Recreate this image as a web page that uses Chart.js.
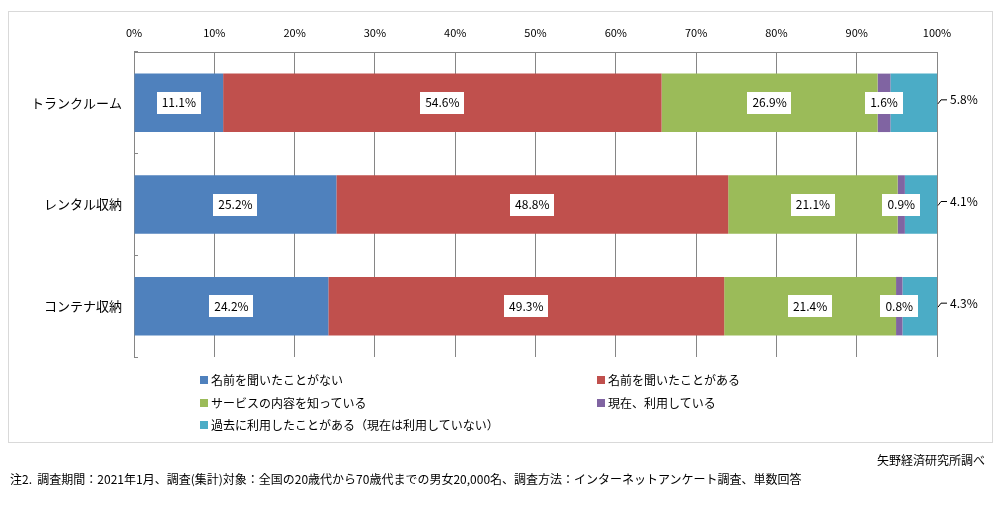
<!DOCTYPE html>
<html lang="ja">
<head>
<meta charset="utf-8">
<script src="https://cdn.jsdelivr.net/npm/chart.js@4/dist/chart.umd.min.js"></script>
<style>
  body { margin: 0; background: #fff; font-family: "Meiryo UI", "Noto Sans CJK JP", sans-serif; color: #000; }
  #frame { position: absolute; left: 8px; top: 11px; width: 983px; height: 430px; border: 1px solid #d9d9d9; }
  #wrap { position: absolute; left: 0; top: 0; width: 1001px; height: 517px; }
  .legend-item { position: absolute; font-size: 12px; line-height: 16px; white-space: nowrap; }
  .legend-item span { display: inline-block; width: 8px; height: 8px; margin-right: 3px; vertical-align: 1px; }
  #source { position: absolute; right: 16px; top: 451px; font-size: 12px; }
  #note { position: absolute; left: 10px; top: 470px; font-size: 12px; white-space: nowrap; }
</style>
</head>
<body>
<div id="frame"></div>
<div id="wrap"><canvas id="chart"></canvas></div>
<div id="legend"></div>
<div id="source">矢野経済研究所調べ</div>
<div id="note">注2.&nbsp;&nbsp;調査期間：2021年1月、調査(集計)対象：全国の20歳代から70歳代までの男女20,000名、調査方法：インターネットアンケート調査、単数回答</div>

<script>
const categories = ["トランクルーム", "レンタル収納", "コンテナ収納"];
const seriesNames = [
  "名前を聞いたことがない",
  "名前を聞いたことがある",
  "サービスの内容を知っている",
  "現在、利用している",
  "過去に利用したことがある（現在は利用していない）",
];
const neverHeard = [11.1, 25.2, 24.2];
const heardOf = [54.6, 48.8, 49.3];
const knowService = [26.9, 21.1, 21.4];
const usingNow = [1.6, 0.9, 0.8];
const usedBefore = [5.8, 4.1, 4.3];
const tickValues = [0, 10, 20, 30, 40, 50, 60, 70, 80, 90, 100];

const colors = ["#4F81BD", "#C0504D", "#9BBB59", "#8064A2", "#4BACC6"];
const seriesValues = [neverHeard, heardOf, knowService, usingNow, usedBefore];

// legend positions: two columns, last one alone
const legendSpots = [[200, 372], [597, 372], [200, 395], [597, 395], [200, 417]];
const legendBox = document.getElementById("legend");
seriesNames.forEach((name, i) => {
  const item = document.createElement("div");
  item.className = "legend-item";
  item.style.left = legendSpots[i][0] + "px";
  item.style.top = legendSpots[i][1] + "px";
  item.innerHTML = `<span style="background:${colors[i]}"></span>${name}`;
  legendBox.appendChild(item);
});

Chart.defaults.font.family = '"Meiryo UI", "Noto Sans CJK JP", sans-serif';
Chart.defaults.color = "#000";

const valueLabels = {
  id: "valueLabels",
  afterDatasetsDraw(chart) {
    const ctx = chart.ctx;
    const last = chart.data.datasets.length - 1;
    const area = chart.chartArea;
    ctx.save();
    ctx.font = '12px "Meiryo UI", "Noto Sans CJK JP", sans-serif';
    ctx.textBaseline = "middle";
    chart.data.datasets.forEach((ds, i) => {
      const meta = chart.getDatasetMeta(i);
      meta.data.forEach((bar, j) => {
        const p = bar.getProps(["x", "y", "base"], true);
        const text = ds.data[j].toFixed(1) + "%";
        if (i === last) {
          const ly = p.y - 3;
          ctx.strokeStyle = "#000";
          ctx.lineWidth = 1;
          ctx.beginPath();
          ctx.moveTo(area.right + 1, ly + 4);
          ctx.lineTo(area.right + 4, ly);
          ctx.lineTo(area.right + 10, ly);
          ctx.stroke();
          ctx.fillStyle = "#000";
          ctx.textAlign = "left";
          ctx.fillText(text, area.right + 13, ly);
          return;
        }
        const cx = (p.x + p.base) / 2;
        const w = ctx.measureText(text).width + 10;
        ctx.fillStyle = "#fff";
        ctx.fillRect(Math.round(cx - w / 2), Math.round(p.y - 11), Math.round(w), 22);
        ctx.fillStyle = "#000";
        ctx.textAlign = "center";
        ctx.fillText(text, cx, p.y);
      });
    });
    ctx.restore();
  },
};

let stackChart = new Chart(document.getElementById("chart").getContext("2d"), {
  type: "bar",
  data: {
    labels: categories,
    datasets: seriesNames.map((name, i) => ({
      label: name,
      data: seriesValues[i],
      backgroundColor: colors[i],
      borderWidth: 0,
      barPercentage: 0.575,
      categoryPercentage: 1,
    })),
  },
  options: {
    indexAxis: "y",
    responsive: true,
    maintainAspectRatio: false,
    animation: false,
    layout: { padding: { left: 0, right: 64, top: 0, bottom: 160 } },
    plugins: {
      legend: { display: false },
      tooltip: { enabled: false },
    },
    scales: {
      x: {
        position: "top",
        stacked: true,
        min: 0,
        max: 100,
        afterFit: (s) => { s.height = 52; },
        afterBuildTicks: (s) => { s.ticks = tickValues.map((v) => ({ value: v })); },
        ticks: {
          callback: (v) => v + "%",
          font: { size: 11 },
          padding: 13,
          maxRotation: 0,
        },
        grid: { color: "#868686", drawTicks: false },
        border: { display: true, color: "#868686" },
      },
      y: {
        stacked: true,
        afterFit: (s) => { s.width = 134; },
        ticks: { font: { size: 13 }, padding: 16 },
        grid: {
          color: "#868686",
          drawOnChartArea: false,
          drawTicks: true,
          tickLength: -4,
        },
        border: { display: true, color: "#868686" },
      },
    },
  },
  plugins: [valueLabels],
});
</script>
</body>
</html>
